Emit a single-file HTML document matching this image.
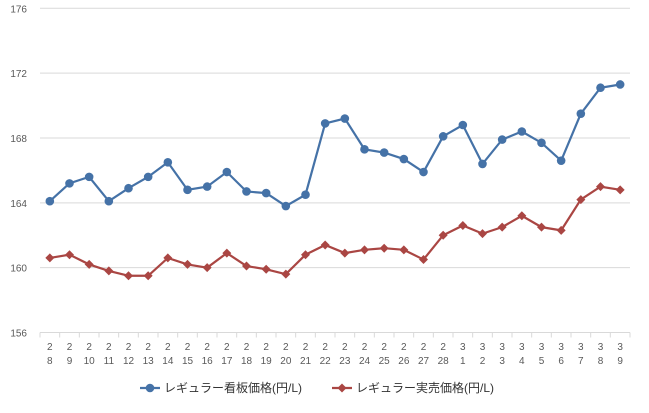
<!DOCTYPE html>
<html><head><meta charset="utf-8"><style>
body{margin:0;background:#fff;font-family:"Liberation Sans","Noto Sans CJK JP",sans-serif}
</style></head><body>
<svg id="c" width="649" height="408" xmlns="http://www.w3.org/2000/svg" font-family="Liberation Sans, Noto Sans CJK JP, sans-serif"></svg>
<script>
const months=[2,2,2,2,2,2,2,2,2,2,2,2,2,2,2,2,2,2,2,2,2,3,3,3,3,3,3,3,3,3];
const days=[8,9,10,11,12,13,14,15,16,17,18,19,20,21,22,23,24,25,26,27,28,1,2,3,4,5,6,7,8,9];
const signPrice=[164.1,165.2,165.6,164.1,164.9,165.6,166.5,164.8,165.0,165.9,164.7,164.6,163.8,164.5,168.9,169.2,167.3,167.1,166.7,165.9,168.1,168.8,166.4,167.9,168.4,167.7,166.6,169.5,171.1,171.3];
const actualPrice=[160.6,160.8,160.2,159.8,159.5,159.5,160.6,160.2,160.0,160.9,160.1,159.9,159.6,160.8,161.4,160.9,161.1,161.2,161.1,160.5,162.0,162.6,162.1,162.5,163.2,162.5,162.3,164.2,165.0,164.8];
const yTicks=[156,160,164,168,172,176];
const NS="http://www.w3.org/2000/svg",svg=document.getElementById('c');
function mk(t,a,txt){const e=document.createElementNS(NS,t);for(const k in a)e.setAttribute(k,a[k]);if(txt!=null)e.textContent=txt;svg.appendChild(e);return e;}
const x0=40,x1=630,yTop=8.3,yBot=332.5;
const step=(x1-x0)/days.length;
const X=i=>x0+step*(i+0.5);
const Y=v=>yBot-(v-156)/20*(yBot-yTop);
yTicks.forEach(t=>{
 const g=mk('line',{x1:x0,x2:x1,y1:Y(t),y2:Y(t),stroke:'#d9d9d9','stroke-width':1});
 
 const l=mk('text',{x:27,y:Y(t)+4,'text-anchor':'end','font-size':10,fill:'#595959'},t);
 
});
for(let i=0;i<=days.length;i++){
 const tk=mk('line',{x1:x0+step*i,x2:x0+step*i,y1:yBot,y2:yBot+5,stroke:'#d9d9d9'});
 
}
days.forEach((d,i)=>{
 const a=mk('text',{x:X(i),y:350,'text-anchor':'middle','font-size':10,fill:'#595959'},months[i]);
 
 const b=mk('text',{x:X(i),y:364,'text-anchor':'middle','font-size':10,fill:'#595959'},d);
 
});
function series(vals,col,name,marker){
 const p=mk('polyline',{points:vals.map((v,i)=>X(i)+','+Y(v)).join(' '),fill:'none',stroke:col,'stroke-width':2.2});
 
 vals.forEach((v,i)=>{
  let m;
  if(marker==='c')m=mk('circle',{cx:X(i),cy:Y(v),r:4.3,fill:col});
  else {const x=X(i),y=Y(v);m=mk('polygon',{points:`${x},${y-4.5} ${x+4.5},${y} ${x},${y+4.5} ${x-4.5},${y}`,fill:col});}
  
 });
}
series(signPrice,'#4572a7','sign-price','c');
series(actualPrice,'#aa4643','actual-price','d');
const l1=mk('line',{x1:140,x2:160,y1:388,y2:388,stroke:'#4572a7','stroke-width':2.2});

const c1=mk('circle',{cx:150,cy:388,r:4.3,fill:'#4572a7'});

const t1=mk('text',{x:164,y:392,'font-size':12,fill:'#333'},'レギュラー看板価格(円/L)');

const l2=mk('line',{x1:332,x2:352,y1:388,y2:388,stroke:'#aa4643','stroke-width':2.2});

const c2=mk('polygon',{points:'342,383.5 346.5,388 342,392.5 337.5,388',fill:'#aa4643'});

const t2=mk('text',{x:356,y:392,'font-size':12,fill:'#333'},'レギュラー実売価格(円/L)');

</script>
</body></html>
